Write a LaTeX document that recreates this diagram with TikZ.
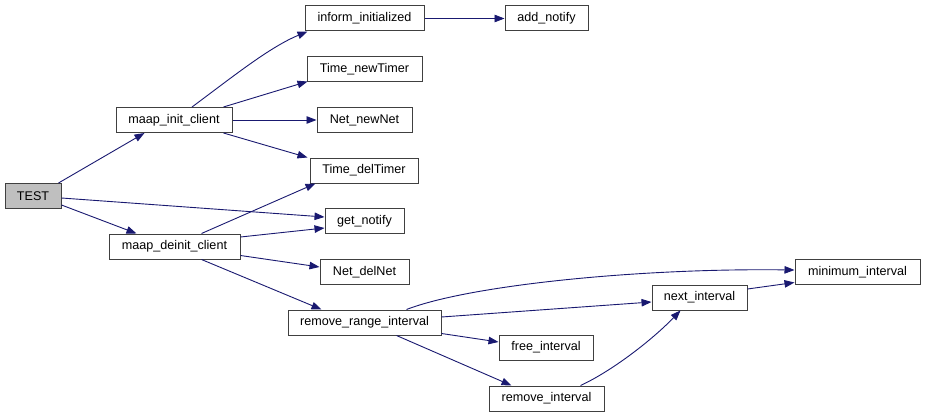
\documentclass[tikz,border=0pt]{standalone}
\usepackage{fontspec}
\setmainfont{Liberation Sans}
\usetikzlibrary{arrows.meta}
\definecolor{edgeblue}{HTML}{191970}
\definecolor{boxline}{HTML}{404040}
\begin{document}
\begin{tikzpicture}[
    x=1pt, y=-1pt,
    fn/.style={rectangle, draw=boxline, line width=1pt, minimum height=25pt, inner sep=0pt, font=\fontsize{12.6}{14}\selectfont},
    root/.style={fn, fill=gray!50},
    call/.style={line width=0.9pt, draw=edgeblue, -{Triangle[length=10pt,width=7.5pt]}, color=edgeblue}
]
\useasboundingbox (0,0) rectangle (925,417);

\node (test) [root, minimum width=56pt] at (33,196) {TEST};
\node (init) [fn, minimum width=116pt] at (174,120) {maap\_init\_client};
\node (deinit) [fn, minimum width=131pt] at (174.5,246.5) {maap\_deinit\_client};
\node (inform) [fn, minimum width=119pt] at (364.5,18.5) {inform\_initialized};
\node (addnotify) [fn, minimum width=83pt] at (546.5,18.5) {add\_notify};
\node (newtimer) [fn, minimum width=115pt] at (364.5,69.5) {Time\_newTimer};
\node (newnet) [fn, minimum width=95pt] at (364.5,120) {Net\_newNet};
\node (deltimer) [fn, minimum width=108pt] at (364,170.5) {Time\_delTimer};
\node (getnotify) [fn, minimum width=79pt] at (364.5,221) {get\_notify};
\node (delnet) [fn, minimum width=89pt] at (364.5,272) {Net\_delNet};
\node (rmrange) [fn, minimum width=153pt] at (364.5,322.5) {remove\_range\_interval};
\node (freeint) [fn, minimum width=94pt] at (546,347.5) {free\_interval};
\node (rmint) [fn, minimum width=115pt] at (546.5,398.5) {remove\_interval};
\node (nextint) [fn, minimum width=95pt] at (699.5,297.5) {next\_interval};
\node (minint) [fn, minimum width=125pt] at (857.5,272) {minimum\_interval};

% calls from TEST
\draw [call] ([xshift=-3pt]test.north east) -- ([xshift=29pt]init.south west);
\draw [call] ([yshift=-2pt]test.east) -- ([yshift=4pt]getnotify.west);
\draw [call] ([yshift=-9pt]test.east) -- ([xshift=28pt]deinit.north west);

% calls from maap_init_client
\draw [call] ([xshift=18pt]init.north) .. controls (235,75) and (270,47) .. ([xshift=3pt]inform.south west);
\draw [call] ([xshift=-9pt]init.north east) -- ([xshift=1pt,yshift=1pt]newtimer.south west);
\draw [call] (init.east) -- (newnet.west);
\draw [call] ([xshift=-9pt]init.south east) -- ([xshift=-2pt]deltimer.north west);

% calls from maap_deinit_client
\draw [call] ([xshift=27pt]deinit.north) -- ([xshift=6pt]deltimer.south west);
\draw [call] ([yshift=9.5pt]deinit.east) -- ([yshift=-7pt]getnotify.west);
\draw [call] ([yshift=4pt]deinit.south east) -- ([yshift=5pt]delnet.west);
\draw [call] ([xshift=27pt]deinit.south) -- ([xshift=34pt]rmrange.north west);

% calls from remove_range_interval
\draw [call] ([xshift=42pt]rmrange.north) .. controls (470,285) and (640,268) .. ([yshift=2pt]minint.west);
\draw [call] ([yshift=5.5pt]rmrange.east) -- ([yshift=-4.5pt]nextint.west);
\draw [call] ([yshift=2pt]rmrange.south east) -- ([yshift=5.5pt]freeint.west);
\draw [call] ([xshift=32pt]rmrange.south) -- ([xshift=23pt]rmint.north west);

% remaining calls
\draw [call] ([xshift=34pt]rmint.north) .. controls (610,372) and (650,342) .. ([xshift=-19pt]nextint.south);
\draw [call] ([yshift=8.5pt]nextint.east) -- ([yshift=2.5pt]minint.south west);
\draw [call] (inform.east) -- (addnotify.west);
\end{tikzpicture}
\end{document}
